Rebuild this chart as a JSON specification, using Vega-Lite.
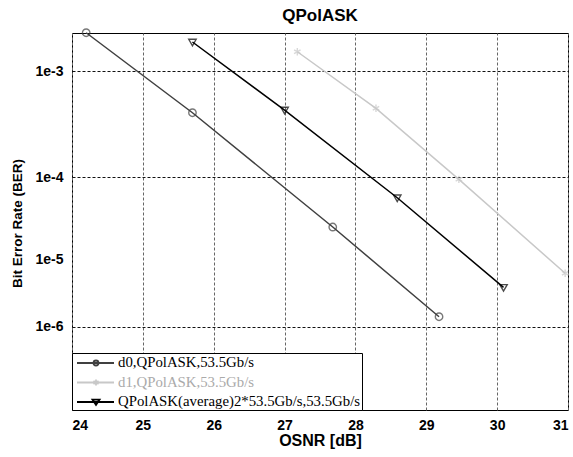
{
  "$schema": "https://vega.github.io/schema/vega-lite/v6.json",
  "autosize": {"type": "none"},
  "width": 496,
  "height": 377,
  "padding": {"left": 72, "top": 33, "right": 5, "bottom": 47},
  "background": "white",
  "title": {"text": "QPolASK", "font": "Liberation Sans", "fontSize": 17, "fontWeight": "bold", "color": "#000", "offset": 1},
  "config": {
    "view": {"stroke": "#000", "strokeWidth": 1},
    "axis": {"labelFont": "Liberation Sans", "labelFontWeight": "bold", "labelFontSize": 14, "labelColor": "#000", "titleFont": "Liberation Sans", "titleFontWeight": "bold", "titleFontSize": 16, "titleColor": "#000", "ticks": false, "domain": false}
  },
  "data": {"values": [
    {"series": "d0,QPolASK,53.5Gb/s", "OSNR": 24.2, "BER": 1.98e-3, "negLog10BER": 2.704},
    {"series": "d0,QPolASK,53.5Gb/s", "OSNR": 25.7, "BER": 4.37e-4, "negLog10BER": 3.359},
    {"series": "d0,QPolASK,53.5Gb/s", "OSNR": 27.68, "BER": 2.64e-5, "negLog10BER": 4.579},
    {"series": "d0,QPolASK,53.5Gb/s", "OSNR": 29.18, "BER": 1.45e-6, "negLog10BER": 5.840},
    {"series": "d1,QPolASK,53.5Gb/s", "OSNR": 27.18, "BER": 1.42e-3, "negLog10BER": 2.847},
    {"series": "d1,QPolASK,53.5Gb/s", "OSNR": 28.29, "BER": 4.8e-4, "negLog10BER": 3.319},
    {"series": "d1,QPolASK,53.5Gb/s", "OSNR": 29.46, "BER": 9.47e-5, "negLog10BER": 4.024},
    {"series": "d1,QPolASK,53.5Gb/s", "OSNR": 30.96, "BER": 6.44e-6, "negLog10BER": 5.191},
    {"series": "QPolASK(average)2*53.5Gb/s,53.5Gb/s", "OSNR": 25.7, "BER": 1.69e-3, "negLog10BER": 2.773},
    {"series": "QPolASK(average)2*53.5Gb/s,53.5Gb/s", "OSNR": 27.0, "BER": 4.63e-4, "negLog10BER": 3.335},
    {"series": "QPolASK(average)2*53.5Gb/s,53.5Gb/s", "OSNR": 28.59, "BER": 5.89e-5, "negLog10BER": 4.230},
    {"series": "QPolASK(average)2*53.5Gb/s,53.5Gb/s", "OSNR": 30.09, "BER": 4.05e-6, "negLog10BER": 5.393}
  ]},
  "encoding": {
    "x": {"field": "OSNR", "type": "quantitative",
      "scale": {"domain": [24, 31], "nice": false, "zero": false},
      "axis": {"title": "OSNR [dB]", "values": [24, 25, 26, 27, 28, 29, 30, 31], "grid": true, "gridColor": "#666", "gridDash": [3, 2], "gridWidth": 1, "labelPadding": 8, "titleY": 30, "titleBaseline": "middle"}},
    "y": {"field": "negLog10BER", "type": "quantitative",
      "scale": {"type": "log", "domain": [2.706, 7.52], "nice": false, "zero": false, "reverse": true},
      "axis": {"title": "Bit Error Rate (BER)", "titleFontSize": 13.5, "values": [3, 4, 5, 6], "labelExpr": "'1e-' + datum.value", "grid": true, "gridColor": "#111", "gridDash": [3, 2], "gridWidth": 1,
        "gridOpacity": {"condition": {"test": "datum.value == 5", "value": 0}, "value": 1},
        "labelPadding": 9, "titleX": -55, "titleY": 190, "titleAlign": "center", "titleBaseline": "middle", "titleAngle": -90}}
  },
  "layer": [
    {
      "mark": {"type": "line", "strokeWidth": 1.5},
      "encoding": {
        "color": {"field": "series", "type": "nominal",
          "scale": {"domain": ["d0,QPolASK,53.5Gb/s", "d1,QPolASK,53.5Gb/s", "QPolASK(average)2*53.5Gb/s,53.5Gb/s"], "range": ["#404040", "#c8c8c8", "#000000"]},
          "legend": null}
      }
    },
    {
      "mark": {"type": "point", "filled": false, "strokeWidth": 1.4, "size": 55},
      "encoding": {
        "color": {"field": "series", "type": "nominal",
          "scale": {"domain": ["d0,QPolASK,53.5Gb/s", "d1,QPolASK,53.5Gb/s", "QPolASK(average)2*53.5Gb/s,53.5Gb/s"], "range": ["#404040", "#c8c8c8", "#000000"]},
          "legend": null},
        "shape": {"field": "series", "type": "nominal",
          "scale": {"domain": ["d0,QPolASK,53.5Gb/s", "d1,QPolASK,53.5Gb/s", "QPolASK(average)2*53.5Gb/s,53.5Gb/s"], "range": ["circle", "M0,-1V1M-0.87,-0.5L0.87,0.5M-0.87,0.5L0.87,-0.5", "M-1,-0.75L1,-0.75L0,1Z"]},
          "legend": null}
      }
    },
    {
      "mark": {"type": "point", "filled": false, "opacity": 0, "strokeWidth": 1.4},
      "encoding": {
        "color": {"field": "series", "type": "nominal",
          "scale": {"domain": ["d0,QPolASK,53.5Gb/s", "d1,QPolASK,53.5Gb/s", "QPolASK(average)2*53.5Gb/s,53.5Gb/s"], "range": ["#404040", "#c8c8c8", "#000000"]},
          "legend": {"title": null, "orient": "bottom-left", "offset": 0, "direction": "vertical", "padding": 1, "rowPadding": 3.5,
            "strokeColor": "#000", "fillColor": "#fff",
            "labelFont": "Liberation Serif", "labelFontSize": 14.8, "labelLimit": 400, "labelOffset": 27,
            "labelColor": {"expr": "datum.value == 'd1,QPolASK,53.5Gb/s' ? '#aaaaaa' : '#000000'"},
            "symbolSize": 256, "symbolStrokeWidth": 1.8, "symbolOpacity": 1}},
        "shape": {"field": "series", "type": "nominal",
          "scale": {"domain": ["d0,QPolASK,53.5Gb/s", "d1,QPolASK,53.5Gb/s", "QPolASK(average)2*53.5Gb/s,53.5Gb/s"],
            "range": ["M-0.625,0H4M1.44,0A0.31,0.31 0 1,0 2.06,0A0.31,0.31 0 1,0 1.44,0Z", "M-0.625,0H4M1.75,-0.375V0.375M1.425,-0.19L2.075,0.19M1.425,0.19L2.075,-0.19", "M-0.625,0H4M1.31,-0.3L2.19,-0.3L1.75,0.35Z"]},
          "legend": {"title": null, "orient": "bottom-left", "offset": 0, "direction": "vertical", "padding": 1, "rowPadding": 3.5,
            "strokeColor": "#000", "fillColor": "#fff",
            "labelFont": "Liberation Serif", "labelFontSize": 14.8, "labelLimit": 400, "labelOffset": 27,
            "labelColor": {"expr": "datum.value == 'd1,QPolASK,53.5Gb/s' ? '#aaaaaa' : '#000000'"},
            "symbolSize": 256, "symbolStrokeWidth": 1.8, "symbolOpacity": 1}}
      }
    }
  ],
  "resolve": {"scale": {"color": "independent", "shape": "independent"}}
}
